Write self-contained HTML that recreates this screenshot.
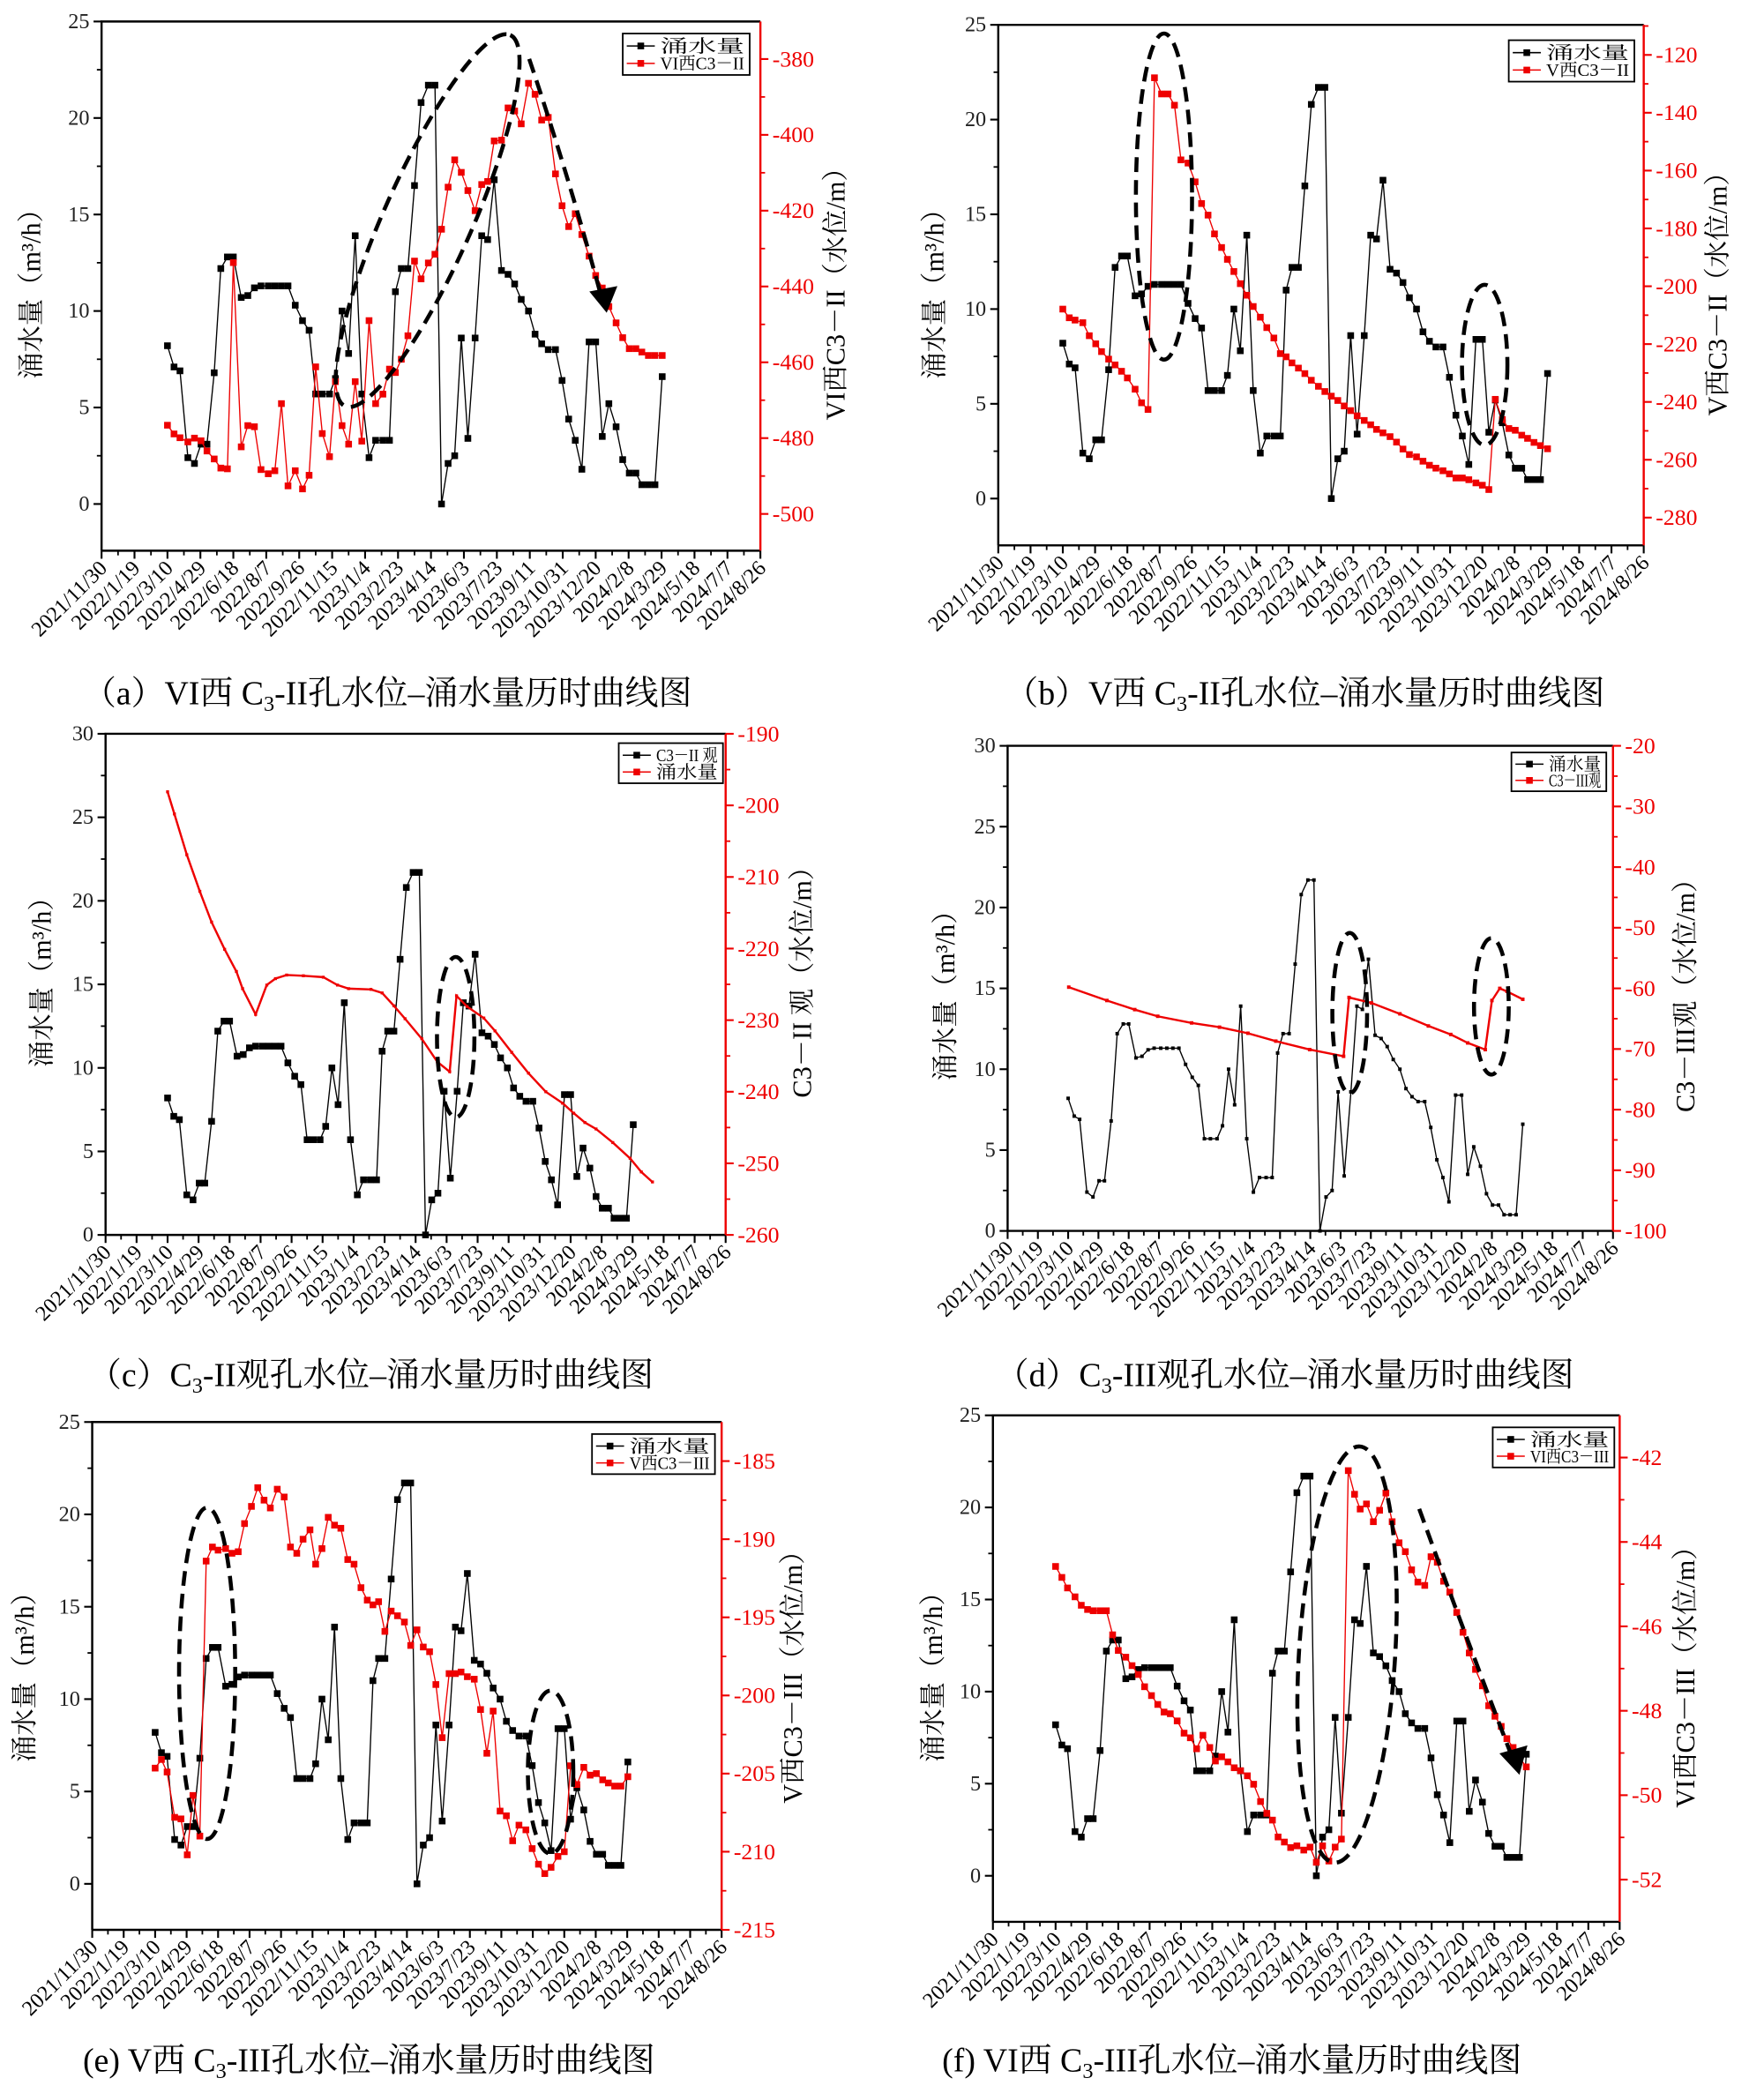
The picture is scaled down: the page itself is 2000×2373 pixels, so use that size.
<!DOCTYPE html>
<html><head><meta charset="utf-8"><style>
html,body{margin:0;padding:0;background:#fff;}
svg{display:block;}
svg text{font-family:"Liberation Serif","Noto Serif CJK SC",serif;}
</style></head><body>
<svg id="fig" xmlns="http://www.w3.org/2000/svg" width="2000" height="2373" viewBox="0 0 1320 1566" font-family="Liberation Serif, Noto Serif CJK SC, serif"></svg>
<script>
const days=[100,110,119,131,141,151,160,171,181,191,200,212,222,232,242,253,263,273,283,294,305,315,325,335,346,355,365,375,385,395,406,416,427,437,446,455,465,475,485,496,506,516,526,536,546,556,567,577,586,596,607,617,627,637,648,658,668,678,689,699,709,719,729,740,750,760,770,781,791,801,811,820,830,840,851];
const inflow=[8.2,7.1,6.9,2.4,2.1,3.1,3.1,6.8,12.2,12.8,12.8,10.7,10.8,11.2,11.3,11.3,11.3,11.3,11.3,10.3,9.5,9.0,5.7,5.7,5.7,6.5,10.0,7.8,13.9,5.7,2.4,3.3,3.3,3.3,11.0,12.2,12.2,16.5,20.8,21.7,21.7,0,2.1,2.5,8.6,3.4,8.6,13.9,13.7,16.8,12.1,11.9,11.4,10.6,10.0,8.8,8.3,8.0,8.0,6.4,4.4,3.3,1.8,8.4,8.4,3.5,5.2,4.0,2.3,1.6,1.6,1.0,1.0,1.0,6.6];
const levelA=[-476.6,-478.9,-479.9,-481,-480,-480.7,-483.4,-485.5,-487.9,-488.1,-433.7,-482.3,-476.7,-477,-488.3,-489.4,-488.6,-470.9,-492.6,-488.6,-493.4,-489.8,-461.2,-478.8,-484.9,-465.1,-476.7,-481.6,-465.1,-480.8,-449,-470.9,-468.4,-461.8,-462.7,-459.2,-453,-433.3,-438,-433.8,-431.5,-424.9,-413.8,-406.6,-409.9,-414.7,-420,-413.1,-412.3,-401.6,-401.4,-392.9,-393.7,-397.1,-386.4,-389.3,-396.1,-395.4,-410.3,-418.7,-424.2,-420.8,-426.3,-432,-437.1,-440.4,-445.3,-449.6,-453.5,-456.4,-456.4,-457.3,-458.2,-458.2,-458.2];
const levelB=[-207.9,-210.9,-211.7,-212.6,-217.1,-219.9,-222.6,-225.2,-227.2,-229.4,-231.7,-235.6,-240.3,-242.6,-127.9,-133.5,-133.5,-137.4,-156.3,-157.4,-163.9,-171.4,-175.4,-181.9,-186.6,-190.7,-194.9,-199.1,-203.1,-207,-210.7,-214.3,-217.9,-223.3,-224.4,-226.5,-228.3,-230.2,-232.5,-234.6,-236.4,-238,-239.5,-241.4,-243,-244.8,-246.4,-247.9,-249.5,-250.7,-252,-253.9,-256.3,-258.2,-259,-260.5,-261.9,-262.9,-263.8,-264.9,-266.3,-266.3,-266.9,-268,-268.8,-270.3,-239.1,-246.1,-249.2,-249.8,-251.5,-252.6,-254,-255.1,-256.2];
const daysC=[100,111,131,152,171,192,211,221,242,260,274,292,319,351,374,392,428,446,465,483,510,535,555,566,583,610,628,655,682,710,737,755,773,791,818,846,864,882];
const levelC=[-198.1,-201.2,-206.9,-212,-216.3,-220.1,-223.2,-225.6,-229.2,-225.1,-224.2,-223.7,-223.8,-224,-225.1,-225.6,-225.7,-226.2,-228,-229.8,-232.6,-235.8,-237.2,-226.6,-228.1,-229.7,-231.5,-234.5,-237.4,-240,-241.6,-243,-244.3,-245.2,-247.1,-249.3,-251.2,-252.6];
const daysD=[101,164,210,248,304,350,397,443,499,555,564,601,648,695,732,760,789,800,813,825,851];
const levelD=[-59.8,-62,-63.5,-64.6,-65.7,-66.4,-67.4,-68.7,-70.1,-71.2,-61.5,-62.4,-64.2,-66.2,-67.6,-69,-70.1,-62,-60,-60.5,-61.8];
const levelE=[-204.65,-204.1,-204.9,-207.8,-207.9,-210.2,-206.4,-209,-191.4,-190.5,-190.7,-190.6,-190.9,-190.8,-189,-187.9,-186.7,-187.5,-188,-186.8,-187.3,-190.5,-190.9,-190,-189.4,-191.6,-190.6,-188.6,-189.1,-189.3,-191.3,-191.6,-193.1,-193.9,-194.2,-194,-195.9,-194.6,-194.9,-195.3,-196.8,-195.8,-196.9,-197.2,-199.3,-202.7,-198.6,-198.6,-198.5,-198.8,-198.96,-200.9,-203.7,-201,-207.4,-207.7,-209.3,-208.3,-208.6,-209.8,-210.8,-211.4,-211,-210.3,-210,-204.5,-205.7,-204.6,-205.1,-205,-205.4,-205.6,-205.8,-205.8,-205.2];
const levelF=[-44.58,-44.84,-45.09,-45.3,-45.5,-45.6,-45.63,-45.63,-45.63,-46.2,-46.57,-46.73,-46.93,-47.14,-47.43,-47.64,-47.85,-48.03,-48.07,-48.24,-48.53,-48.64,-48.9,-48.58,-48.87,-49.19,-49.09,-49.21,-49.35,-49.42,-49.54,-49.74,-50.15,-50.43,-50.59,-50.99,-51.11,-51.24,-51.2,-51.3,-51.23,-51.59,-51.2,-51.56,-51.23,-51.04,-42.31,-42.87,-43.22,-43.1,-43.52,-43.25,-42.84,-43.52,-44.02,-44.23,-44.66,-44.95,-45.03,-44.35,-44.48,-44.93,-45.19,-45.67,-46.14,-46.63,-47.02,-47.41,-47.88,-48.13,-48.37,-48.66,-48.87,-49.11,-49.33];
const xTickLabels=["2021/11/30","2022/1/19","2022/3/10","2022/4/29","2022/6/18","2022/8/7","2022/9/26","2022/11/15","2023/1/4","2023/2/23","2023/4/14","2023/6/3","2023/7/23","2023/9/11","2023/10/31","2023/12/20","2024/2/8","2024/3/29","2024/5/18","2024/7/7","2024/8/26"];
const xTickDays=[0,50,100,150,200,250,300,350,400,450,500,550,600,650,700,750,800,850,900,950,1000];

const NS="http://www.w3.org/2000/svg";
const FONT='"Liberation Serif","Noto Serif CJK SC",serif';
const svg=document.getElementById('fig');
function mk(tag,attrs,parent){const e=document.createElementNS(NS,tag);for(const k in attrs)e.setAttribute(k,attrs[k]);if(tag==='text')e.setAttribute('font-family',FONT);(parent||svg).appendChild(e);return e;}

const panels=[
 {id:'a',L:76,R:569,T:16,B:412,lmin:-2.42,lmax:25,lstep:5,rmin:-509.7,rmax:-370.1,rt:[-380,-400,-420,-440,-460,-480,-500],
  blackName:'涌水量',redName:'VI西C3－II',rTitle:'VI西C3－II（水位/m）',rd:days,rv:levelA,ms:5,rms:5,
  leg:[466,25,95,31],lx:30,ly:215,rx:632,cap:[62,527,'（a）VI西 C','3','-II孔水位–涌水量历时曲线图']},
 {id:'b',L:747,R:1230,T:18.5,B:408,lmin:-2.47,lmax:25,lstep:5,rmin:-289.6,rmax:-109.6,rt:[-120,-140,-160,-180,-200,-220,-240,-260,-280],
  blackName:'涌水量',redName:'V西C3－II',rTitle:'V西C3－II（水位/m）',rd:days,rv:levelB,ms:5,rms:5,
  leg:[1129,30,94,31],lx:706,ly:215,rx:1292,cap:[752,527,'（b）V西 C','3','-II孔水位–涌水量历时曲线图']},
 {id:'c',L:79,R:543,T:549,B:924,lmin:0,lmax:30,lstep:5,rmin:-260,rmax:-190,rt:[-190,-200,-210,-220,-230,-240,-250,-260],
  blackName:'C3－II 观',redName:'涌水量',rTitle:'C3－II 观（水位/m）',rd:daysC,rv:levelC,ms:5,rms:2.2,
  leg:[463,556,78,30],lx:38,ly:730,rx:607,cap:[66,1037,'（c）C','3','-II观孔水位–涌水量历时曲线图']},
 {id:'d',L:754,R:1207,T:558,B:921,lmin:0,lmax:30,lstep:5,rmin:-100,rmax:-20,rt:[-20,-30,-40,-50,-60,-70,-80,-90,-100],
  blackName:'涌水量',redName:'C3－III观',rTitle:'C3－III观（水位/m）',rd:daysD,rv:levelD,ms:2.6,rms:2.6,
  leg:[1131,563,71,29],lx:714,ly:740,rx:1268,cap:[745,1037,'（d）C','3','-III观孔水位–涌水量历时曲线图']},
 {id:'e',L:69,R:540,T:1064,B:1444,lmin:-2.49,lmax:25,lstep:5,rmin:-215,rmax:-182.5,rt:[-185,-190,-195,-200,-205,-210,-215],
  blackName:'涌水量',redName:'V西C3－III',rTitle:'V西C3－III（水位/m）',rd:days,rv:levelE,ms:5,rms:5,
  leg:[443,1073,92,30],lx:25,ly:1250,rx:600,cap:[62,1550,'(e) V西 C','3','-III孔水位–涌水量历时曲线图']},
 {id:'f',L:743,R:1212,T:1059,B:1438,lmin:-2.5,lmax:25,lstep:5,rmin:-53,rmax:-41,rt:[-42,-44,-46,-48,-50,-52],
  blackName:'涌水量',redName:'VI西C3－III',rTitle:'VI西C3－III（水位/m）',rd:days,rv:levelF,ms:5,rms:5,
  leg:[1117,1068,91,30],lx:705,ly:1250,rx:1268,cap:[705,1550,'(f) VI西 C','3','-III孔水位–涌水量历时曲线图']}
];

function drawPanel(p){
  const g=mk('g',{});
  
  
  const xs=d=>p.L+(p.R-p.L)*d/1000;
  const yl=v=>p.B-(p.B-p.T)*(v-p.lmin)/(p.lmax-p.lmin);
  const yr=v=>p.B-(p.B-p.T)*(v-p.rmin)/(p.rmax-p.rmin);
  const fr=mk('path',{d:`M${p.L},${p.B}V${p.T}H${p.R}M${p.L},${p.B}H${p.R}`,stroke:'#000','stroke-width':1.6,fill:'none'},g);
  
  
  const ra=mk('line',{x1:p.R,y1:p.T,x2:p.R,y2:p.B,stroke:'#e00','stroke-width':1.6},g);
  
  
  for(let i=0;i<xTickDays.length;i++){
    const x=xs(xTickDays[i]);
    mk('line',{x1:x,y1:p.B,x2:x,y2:p.B+6,stroke:'#000','stroke-width':1.4},g);
    if(i<xTickDays.length-1){const xm=xs(xTickDays[i]+25);mk('line',{x1:xm,y1:p.B,x2:xm,y2:p.B+3.5,stroke:'#000','stroke-width':1.2},g);}
    const t=mk('text',{x:x+5,y:p.B+14,'font-size':16,'text-anchor':'end',transform:`rotate(-45 ${x+5} ${p.B+14})`,fill:'#000'},g);
    t.textContent=xTickLabels[i];
    
    
  }
  for(let v=0;v<=p.lmax+0.01;v+=p.lstep){
    const y=yl(v);
    mk('line',{x1:p.L-6,y1:y,x2:p.L,y2:y,stroke:'#000','stroke-width':1.4},g);
    const t=mk('text',{x:p.L-9,y:y+5,'font-size':16,'text-anchor':'end',fill:'#222'},g);
    t.textContent=v;
    
    
  }
  for(let v=p.lstep/2;v<p.lmax;v+=p.lstep){const y=yl(v);mk('line',{x1:p.L-3.5,y1:y,x2:p.L,y2:y,stroke:'#000','stroke-width':1.2},g);}
  if(p.lmin<0){const y=yl(-p.lstep/2);if(y<p.B)mk('line',{x1:p.L-3.5,y1:y,x2:p.L,y2:y,stroke:'#000','stroke-width':1.2},g);}
  const rs=Math.abs(p.rt[1]-p.rt[0]);
  for(const v of p.rt){
    const y=yr(v);
    mk('line',{x1:p.R,y1:y,x2:p.R+6,y2:y,stroke:'#e00','stroke-width':1.4},g);
    const t=mk('text',{x:p.R+9,y:y+5.5,'font-size':17,fill:'#e00'},g);
    t.textContent=v;
    
    
  }
  for(let v=p.rt[0]+rs/2;v>p.rmin-rs;v-=rs){const y=yr(v);if(y>p.T&&y<p.B)mk('line',{x1:p.R,y1:y,x2:p.R+3.5,y2:y,stroke:'#e00','stroke-width':1.2},g);}
  const lt=mk('text',{x:p.lx,y:p.ly,'font-size':20,'text-anchor':'middle',transform:`rotate(-90 ${p.lx} ${p.ly})`,fill:'#000'},g);
  lt.textContent='涌水量（m³/h）';
  
  
  const rtt=mk('text',{x:p.rx,y:p.ly,'font-size':20,'text-anchor':'middle',transform:`rotate(-90 ${p.rx} ${p.ly})`,fill:'#000'},g);
  rtt.textContent=p.rTitle;
  
  
  const bp=days.map((d,i)=>xs(d).toFixed(1)+','+yl(inflow[i]).toFixed(1)).join(' ');
  const bl=mk('polyline',{points:bp,fill:'none',stroke:'#000','stroke-width':0.9},g);
  
  
  days.forEach((d,i)=>{
    const m=mk('rect',{x:xs(d)-p.ms/2,y:yl(inflow[i])-p.ms/2,width:p.ms,height:p.ms,fill:'#000'},g);
    
    
  });
  const rp=p.rd.map((d,i)=>xs(d).toFixed(1)+','+yr(p.rv[i]).toFixed(1)).join(' ');
  const rl=mk('polyline',{points:rp,fill:'none',stroke:'#e00','stroke-width':p.rms<3?1.6:0.9},g);
  
  
  p.rd.forEach((d,i)=>{
    const m=mk('rect',{x:xs(d)-p.rms/2,y:yr(p.rv[i])-p.rms/2,width:p.rms,height:p.rms,fill:'#e00'},g);
    
    
  });
  const [lx,ly,lw,lh]=p.leg;
  const lg=mk('g',{},g);
  
  
  mk('rect',{x:lx,y:ly,width:lw,height:lh,fill:'#fff',stroke:'#000','stroke-width':1.2},lg);
  const cols=['#000','#e00'];
  const names=[p.blackName,p.redName];
  for(let k=0;k<2;k++){
    const yy=ly+lh*(k===0?0.3:0.72);
    mk('line',{x1:lx+3,y1:yy,x2:lx+24,y2:yy,stroke:cols[k],'stroke-width':1},lg);
    mk('rect',{x:lx+11,y:yy-2.5,width:5,height:5,fill:cols[k]},lg);
    const t=mk('text',{x:lx+28,y:yy+4.5,'font-size':13,fill:'#000',textLength:lw-32,lengthAdjust:'spacingAndGlyphs'},lg);
    t.textContent=names[k];
    
    
  }
  const c=mk('text',{x:p.cap[0],y:p.cap[1],'font-size':25,fill:'#000'},g);
  
  
  const s1=mk('tspan',{},c);s1.textContent=p.cap[2];
  const s2=mk('tspan',{dy:5,'font-size':16},c);s2.textContent=p.cap[3];
  const s3=mk('tspan',{dy:-5},c);s3.textContent=p.cap[4];
}
panels.forEach(drawPanel);

const ann=mk('g',{fill:'none',stroke:'#000','stroke-width':3,'stroke-dasharray':'11,6'});


const ells=[[320,165,152,33,-66],[871,147,21,122,0],[1111,273,17,60,0],[341,776,14,60,0],[1010,758,13,60,0],[1116,753,13,51,0],[155,1252,21,124,0],[412,1326,17,61,0],[1008,1238,36,156,3.5]];
ells.forEach(e=>{
  const el=mk('ellipse',{cx:e[0],cy:e[1],rx:e[2],ry:e[3],transform:`rotate(${e[4]} ${e[0]} ${e[1]})`},ann);
  
  
});
const a1=mk('path',{d:'M396,44 Q425,130 450,222'},ann);


const a2=mk('path',{d:'M1062,1129 Q1095,1220 1132,1316'},ann);


const h1=mk('polygon',{points:'441,218 462,214 454,234',fill:'#000',stroke:'none'});


const h2=mk('polygon',{points:'1122,1312 1143,1306 1137,1328',fill:'#000',stroke:'none'});


</script>
</body></html>
